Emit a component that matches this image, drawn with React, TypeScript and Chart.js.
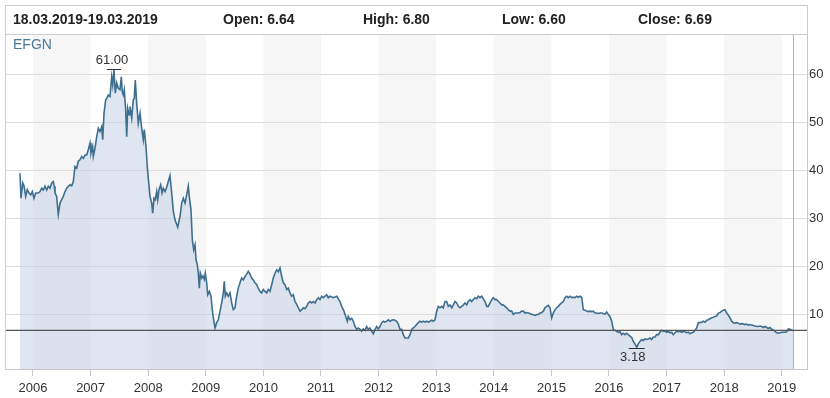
import React, { useEffect, useRef } from 'react';
import { Chart, registerables } from 'chart.js';

Chart.register(...registerables);

const FONT = '"Liberation Sans", Arial, Helvetica, sans-serif';

const seriesName = 'EFGN';
const periodLabel = '18.03.2019-19.03.2019';
const quoteLabels = ['Open:', 'High:', 'Low:', 'Close:'];
const quoteValues = [6.64, 6.8, 6.6, 6.69];

const xTickYears = [2006, 2007, 2008, 2009, 2010, 2011, 2012, 2013, 2014, 2015, 2016, 2017, 2018, 2019];
const yTickValues = [10, 20, 30, 40, 50, 60];

const dates = [
  2005.774, 2005.792, 2005.821, 2005.844, 2005.873, 2005.901, 2005.931, 2005.96, 2005.988, 2006.017,
  2006.047, 2006.092, 2006.122, 2006.151, 2006.179, 2006.208, 2006.238, 2006.266, 2006.295, 2006.325,
  2006.352, 2006.37, 2006.382, 2006.411, 2006.439, 2006.469, 2006.498, 2006.526, 2006.556, 2006.585,
  2006.613, 2006.642, 2006.672, 2006.7, 2006.729, 2006.759, 2006.786, 2006.816, 2006.845, 2006.873,
  2006.903, 2006.932, 2006.96, 2006.99, 2007.007, 2007.036, 2007.047, 2007.076, 2007.106, 2007.134,
  2007.163, 2007.193, 2007.21, 2007.233, 2007.262, 2007.28, 2007.307, 2007.337, 2007.366, 2007.384,
  2007.406, 2007.429, 2007.453, 2007.481, 2007.51, 2007.533, 2007.55, 2007.568, 2007.585, 2007.609,
  2007.627, 2007.644, 2007.667, 2007.684, 2007.714, 2007.741, 2007.759, 2007.776, 2007.8, 2007.828,
  2007.858, 2007.887, 2007.915, 2007.932, 2007.962, 2007.984, 2008.009, 2008.031, 2008.061, 2008.078,
  2008.101, 2008.123, 2008.148, 2008.165, 2008.188, 2008.217, 2008.24, 2008.262, 2008.292, 2008.321,
  2008.349, 2008.378, 2008.408, 2008.436, 2008.465, 2008.512, 2008.552, 2008.582, 2008.609, 2008.639,
  2008.668, 2008.696, 2008.713, 2008.743, 2008.766, 2008.79, 2008.813, 2008.83, 2008.852, 2008.87,
  2008.887, 2008.905, 2008.929, 2008.951, 2008.974, 2008.991, 2009.016, 2009.033, 2009.061, 2009.09,
  2009.113, 2009.137, 2009.16, 2009.189, 2009.217, 2009.247, 2009.276, 2009.304, 2009.321, 2009.339,
  2009.363, 2009.391, 2009.42, 2009.45, 2009.477, 2009.507, 2009.536, 2009.564, 2009.594, 2009.623,
  2009.651, 2009.681, 2009.71, 2009.738, 2009.767, 2009.797, 2009.825, 2009.854, 2009.884, 2009.911,
  2009.941, 2009.97, 2009.998, 2010.028, 2010.057, 2010.085, 2010.115, 2010.144, 2010.172, 2010.201,
  2010.231, 2010.259, 2010.288, 2010.318, 2010.345, 2010.375, 2010.405, 2010.432, 2010.462, 2010.491,
  2010.519, 2010.549, 2010.578, 2010.606, 2010.635, 2010.665, 2010.693, 2010.722, 2010.752, 2010.78,
  2010.809, 2010.839, 2010.866, 2010.896, 2010.925, 2010.953, 2010.983, 2011.012, 2011.04, 2011.069,
  2011.099, 2011.127, 2011.156, 2011.214, 2011.273, 2011.33, 2011.359, 2011.399, 2011.429, 2011.457,
  2011.474, 2011.503, 2011.533, 2011.561, 2011.59, 2011.62, 2011.648, 2011.677, 2011.707, 2011.734,
  2011.764, 2011.793, 2011.821, 2011.851, 2011.88, 2011.908, 2011.938, 2011.967, 2011.995, 2012.024,
  2012.054, 2012.082, 2012.111, 2012.141, 2012.168, 2012.198, 2012.227, 2012.255, 2012.285, 2012.314,
  2012.342, 2012.372, 2012.401, 2012.429, 2012.458, 2012.488, 2012.516, 2012.545, 2012.575, 2012.603,
  2012.632, 2012.661, 2012.689, 2012.719, 2012.748, 2012.776, 2012.806, 2012.835, 2012.863, 2012.892,
  2012.922, 2012.95, 2012.979, 2013.009, 2013.036, 2013.066, 2013.095, 2013.123, 2013.153, 2013.182,
  2013.21, 2013.24, 2013.269, 2013.297, 2013.326, 2013.356, 2013.384, 2013.413, 2013.443, 2013.471,
  2013.5, 2013.53, 2013.557, 2013.587, 2013.616, 2013.644, 2013.674, 2013.703, 2013.731, 2013.76,
  2013.79, 2013.818, 2013.847, 2013.877, 2013.905, 2013.934, 2013.964, 2013.991, 2014.021, 2014.05,
  2014.078, 2014.108, 2014.137, 2014.165, 2014.194, 2014.224, 2014.252, 2014.281, 2014.311, 2014.339,
  2014.368, 2014.398, 2014.425, 2014.455, 2014.484, 2014.512, 2014.542, 2014.571, 2014.599, 2014.628,
  2014.658, 2014.686, 2014.715, 2014.745, 2014.773, 2014.802, 2014.832, 2014.86, 2014.889, 2014.918,
  2014.946, 2014.976, 2015.005, 2015.033, 2015.063, 2015.092, 2015.12, 2015.149, 2015.179, 2015.207,
  2015.236, 2015.266, 2015.293, 2015.323, 2015.352, 2015.38, 2015.41, 2015.439, 2015.467, 2015.497,
  2015.526, 2015.554, 2015.583, 2015.613, 2015.641, 2015.67, 2015.7, 2015.727, 2015.757, 2015.786,
  2015.814, 2015.844, 2015.873, 2015.901, 2015.931, 2015.96, 2015.988, 2016.017, 2016.047, 2016.075,
  2016.104, 2016.134, 2016.161, 2016.191, 2016.22, 2016.248, 2016.278, 2016.307, 2016.335, 2016.365,
  2016.394, 2016.422, 2016.451, 2016.481, 2016.509, 2016.538, 2016.568, 2016.596, 2016.625, 2016.655,
  2016.682, 2016.712, 2016.741, 2016.769, 2016.799, 2016.828, 2016.856, 2016.885, 2016.915, 2016.943,
  2016.972, 2017.002, 2017.03, 2017.059, 2017.089, 2017.116, 2017.146, 2017.175, 2017.203, 2017.233,
  2017.262, 2017.29, 2017.319, 2017.349, 2017.377, 2017.406, 2017.436, 2017.464, 2017.493, 2017.523,
  2017.55, 2017.58, 2017.609, 2017.637, 2017.667, 2017.696, 2017.724, 2017.753, 2017.783, 2017.811,
  2017.84, 2017.87, 2017.898, 2017.927, 2017.957, 2017.984, 2018.014, 2018.043, 2018.071, 2018.101,
  2018.13, 2018.158, 2018.188, 2018.217, 2018.245, 2018.274, 2018.304, 2018.332, 2018.361, 2018.391,
  2018.418, 2018.448, 2018.477, 2018.505, 2018.535, 2018.564, 2018.592, 2018.622, 2018.651, 2018.679,
  2018.708, 2018.738, 2018.766, 2018.795, 2018.825, 2018.853, 2018.882, 2018.912, 2018.939, 2018.969,
  2018.998, 2019.026, 2019.056, 2019.085, 2019.113, 2019.142, 2019.194,
];

const prices = [
  39.4, 34.2, 37.4, 36.8, 34.6, 36.0, 35.3, 34.9, 35.6, 34.2,
  35.3, 35.3, 35.6, 36.3, 35.9, 36.7, 35.9, 36.7, 36.3, 37.4,
  37.7, 36.7, 35.3, 34.6, 30.8, 33.2, 33.9, 34.6, 35.6, 36.3,
  36.7, 37.0, 36.8, 37.7, 40.8, 40.5, 41.9, 42.2, 42.9, 42.5,
  43.2, 43.2, 44.3, 45.7, 43.6, 45.0, 42.9, 44.6, 47.0, 48.8,
  48.1, 49.1, 46.4, 51.9, 54.7, 55.0, 55.7, 55.4, 59.5, 57.8,
  61.0, 56.1, 58.2, 57.1, 56.8, 59.5, 56.4, 55.7, 56.8, 52.6,
  47.0, 52.9, 51.6, 53.3, 50.9, 54.7, 55.0, 58.8, 54.0, 49.8,
  51.9, 48.8, 46.4, 48.5, 45.0, 40.8, 37.4, 34.6, 33.2, 31.1,
  34.2, 33.9, 35.6, 33.9, 36.0, 37.0, 35.3, 36.3, 35.6, 36.5,
  37.7, 38.9, 35.3, 31.5, 29.7, 28.2, 30.4, 33.2, 34.2, 33.2,
  34.9, 36.7, 34.6, 31.8, 25.6, 23.5, 24.5, 21.4, 20.4, 18.6,
  15.5, 18.6, 17.6, 18.0, 17.3, 18.6, 16.6, 14.1, 14.8, 13.8,
  11.0, 8.9, 7.2, 8.3, 8.9, 10.7, 12.4, 14.5, 16.9, 13.8,
  14.5, 13.8, 14.5, 12.4, 11.0, 11.4, 13.8, 15.5, 16.6, 17.6,
  17.2, 17.9, 18.4, 19.0, 18.4, 17.6, 17.2, 16.6, 16.2, 15.5,
  14.8, 14.5, 15.2, 14.8, 14.5, 15.2, 14.8, 16.2, 17.6, 18.6,
  19.3, 18.9, 19.7, 17.9, 16.6, 16.2, 15.2, 15.5, 14.5, 13.8,
  14.1, 12.7, 12.1, 11.4, 10.7, 11.0, 11.4, 11.2, 11.7, 12.4,
  12.7, 12.4, 12.7, 12.4, 13.1, 13.5, 13.1, 13.8, 13.5, 13.8,
  14.1, 13.5, 13.8, 13.5, 13.8, 12.7, 11.7, 10.7, 9.6, 8.6,
  9.6, 8.9, 9.2, 8.6, 7.5, 6.9, 7.2, 6.9, 6.5, 7.0,
  6.7, 7.5, 6.9, 7.2, 6.5, 6.0, 6.9, 7.5, 7.0, 7.5,
  8.3, 8.6, 8.4, 8.6, 8.9, 8.6, 8.8, 8.9, 8.8, 8.6,
  8.0, 6.9, 6.9, 5.8, 5.1, 5.1, 5.1, 5.8, 6.9, 7.2,
  7.5, 7.9, 8.3, 8.6, 8.4, 8.6, 8.4, 8.6, 8.4, 8.6,
  8.8, 8.6, 8.9, 10.7, 11.7, 11.4, 11.7, 11.4, 12.7, 12.7,
  11.7, 12.0, 11.4, 12.0, 12.7, 12.4, 11.7, 11.4, 11.7, 12.0,
  12.4, 12.0, 12.7, 13.1, 12.7, 13.1, 13.5, 13.3, 13.8, 13.5,
  13.8, 13.3, 12.7, 11.7, 11.7, 12.4, 13.1, 13.5, 13.1, 13.1,
  12.7, 12.4, 12.0, 12.0, 11.7, 11.4, 11.0, 10.7, 10.7, 10.0,
  10.3, 10.3, 10.3, 10.4, 10.7, 10.7, 10.3, 10.4, 10.3, 10.2,
  10.0, 10.0, 9.8, 10.0, 10.0, 10.3, 10.4, 10.7, 11.4, 11.7,
  11.9, 11.4, 9.3, 10.3, 11.0, 11.4, 11.7, 12.1, 12.4, 12.7,
  13.5, 13.8, 13.5, 13.8, 13.5, 13.6, 13.5, 13.8, 13.6, 13.8,
  13.6, 11.0, 10.9, 10.7, 10.6, 10.7, 10.6, 10.7, 10.3, 10.3,
  10.2, 10.3, 10.3, 10.2, 10.1, 10.5, 10.0, 9.6, 8.6, 6.9,
  6.7, 6.5, 6.3, 6.4, 5.8, 6.1, 5.8, 6.1, 5.8, 5.5,
  5.2, 4.4, 3.9, 3.18, 3.9, 4.4, 4.8, 4.6, 4.9, 4.8,
  4.9, 5.1, 4.8, 5.3, 5.3, 5.8, 5.8, 6.3, 6.7, 6.5,
  6.5, 6.3, 6.5, 6.2, 6.3, 5.8, 6.2, 6.5, 6.4, 6.5,
  6.3, 6.5, 6.4, 6.2, 6.3, 6.0, 6.2, 6.3, 6.7, 7.2,
  8.3, 8.3, 8.4, 8.6, 8.4, 8.8, 8.9, 9.1, 9.3, 9.4,
  9.6, 9.7, 10.3, 10.4, 10.7, 10.9, 11.0, 10.3, 9.9, 9.3,
  8.6, 8.3, 8.2, 8.3, 8.2, 8.0, 8.1, 8.0, 7.9, 8.0,
  7.8, 7.9, 7.8, 7.7, 7.6, 7.5, 7.5, 7.6, 7.5, 7.3,
  7.5, 7.3, 7.1, 7.3, 6.9, 6.8, 6.5, 6.2, 6.1, 6.2,
  6.3, 6.3, 6.3, 6.4, 7.0, 6.9, 6.69,
];

const decorPlugin = {
  id: 'decor',
  beforeDraw(chart: any) {
    const { ctx, chartArea: a, scales } = chart;
    const x = scales.x;
    ctx.save();
    ctx.fillStyle = '#ffffff';
    ctx.fillRect(0, 0, chart.width, chart.height);
    // alternating year stripes
    ctx.fillStyle = '#f6f6f6';
    xTickYears.forEach((yr) => {
      if (yr % 2 !== 0) return;
      const x0 = Math.max(x.getPixelForValue(yr), a.left);
      const x1 = Math.min(x.getPixelForValue(yr + 1), a.right);
      if (x1 > x0) ctx.fillRect(x0, a.top, x1 - x0, a.bottom - a.top);
    });
    ctx.restore();
  },
  afterDatasetsDraw(chart: any) {
    const { ctx, chartArea: a, scales } = chart;
    const x = scales.x;
    const y = scales.y;
    ctx.save();
    // last-date vertical line
    const lx = Math.round(x.getPixelForValue(dates[dates.length - 1])) + 0.5;
    ctx.strokeStyle = '#b4b4b4';
    ctx.lineWidth = 1;
    ctx.beginPath();
    ctx.moveTo(lx, a.top);
    ctx.lineTo(lx, a.bottom);
    ctx.stroke();
    // close price line
    const cy = y.getPixelForValue(quoteValues[3]);
    ctx.strokeStyle = '#555555';
    ctx.lineWidth = 1.3;
    ctx.beginPath();
    ctx.moveTo(a.left, cy);
    ctx.lineTo(a.right, cy);
    ctx.stroke();
    // max / min annotations
    let iMax = 0;
    let iMin = 0;
    prices.forEach((p, i) => {
      if (p > prices[iMax]) iMax = i;
      if (p < prices[iMin]) iMin = i;
    });
    ctx.fillStyle = '#333333';
    ctx.strokeStyle = '#333333';
    ctx.lineWidth = 1;
    ctx.font = `13px ${FONT}`;
    ctx.textAlign = 'center';
    ctx.textBaseline = 'middle';
    const mx = x.getPixelForValue(dates[iMax]);
    const my = Math.round(y.getPixelForValue(prices[iMax])) - 0.5;
    ctx.beginPath();
    ctx.moveTo(mx - 7, my);
    ctx.lineTo(mx + 7, my);
    ctx.stroke();
    ctx.fillText(prices[iMax].toFixed(2), mx - 2, my - 9);
    const nx = x.getPixelForValue(dates[iMin]);
    const ny = Math.round(y.getPixelForValue(prices[iMin])) + 1.5;
    ctx.beginPath();
    ctx.moveTo(nx - 8, ny);
    ctx.lineTo(nx + 8, ny);
    ctx.stroke();
    ctx.fillText(prices[iMin].toFixed(2), nx - 4, ny + 9);
    ctx.restore();
  },
  afterDraw(chart: any) {
    const { ctx, chartArea: a } = chart;
    ctx.save();
    // header box
    ctx.strokeStyle = '#cccccc';
    ctx.lineWidth = 1;
    ctx.strokeRect(5.5, 5.5, a.right - 5, a.top - 6);
    // left frame line
    ctx.beginPath();
    ctx.moveTo(a.left + 0.5, a.top);
    ctx.lineTo(a.left + 0.5, a.bottom);
    ctx.stroke();
    // header texts
    ctx.fillStyle = '#222222';
    ctx.font = `bold 14px ${FONT}`;
    ctx.textAlign = 'left';
    ctx.textBaseline = 'middle';
    ctx.fillText(periodLabel, 13, 20.5);
    const starts = [223, 363, 502, 638];
    quoteLabels.forEach((lab, i) => {
      ctx.fillText(`${lab} ${quoteValues[i].toFixed(2)}`, starts[i], 20.5);
    });
    // series name
    ctx.fillStyle = '#4a7a98';
    ctx.font = `14px ${FONT}`;
    ctx.fillText(seriesName, 13, 45);
    ctx.restore();
  },
};

export default function App() {
  const canvasRef = useRef<HTMLCanvasElement | null>(null);

  useEffect(() => {
    document.body.style.margin = '0';
    const canvas = canvasRef.current;
    if (!canvas) return;
    const chart = new Chart(canvas, {
      type: 'line',
      data: {
        datasets: [
          {
            label: seriesName,
            data: dates.map((d, i) => ({ x: d, y: prices[i] })),
            borderColor: '#3f6f8e',
            borderWidth: 1.6,
            backgroundColor: 'rgba(192, 204, 228, 0.5)',
            fill: 'start',
            pointRadius: 0,
            tension: 0,
          },
        ],
      },
      options: {
        animation: false,
        responsive: false,
        devicePixelRatio: 1,
        layout: { padding: { left: 5, top: 35, right: 0, bottom: 0 } },
        plugins: { legend: { display: false }, tooltip: { enabled: false } },
        scales: {
          x: {
            type: 'linear',
            min: 2005.514,
            max: 2019.4375,
            afterBuildTicks: (s: any) => {
              s.ticks = xTickYears.map((v) => ({ value: v }));
            },
            afterFit: (s: any) => {
              s.height = 29;
            },
            grid: { drawOnChartArea: false, drawTicks: true, tickLength: 7, tickColor: '#c8c8c8' },
            border: { display: true, color: '#c8c8c8' },
            ticks: {
              padding: 5,
              color: '#333333',
              font: { family: FONT, size: 13 },
              maxRotation: 0,
              autoSkip: false,
              callback: (v: any) => String(v),
            },
          },
          y: {
            type: 'linear',
            position: 'right',
            min: -1.35,
            max: 68.2,
            afterBuildTicks: (s: any) => {
              s.ticks = yTickValues.map((v) => ({ value: v }));
            },
            afterFit: (s: any) => {
              s.width = 23;
            },
            grid: { color: '#dddddd', lineWidth: 1, drawTicks: true, tickLength: 2, tickColor: '#dddddd' },
            border: { display: true, color: '#c8c8c8' },
            ticks: {
              padding: 0,
              color: '#333333',
              font: { family: FONT, size: 13 },
              callback: (v: any) => String(v),
            },
          },
        },
      },
      plugins: [decorPlugin],
    });
    return () => chart.destroy();
  }, []);

  return (
    <div style={{ width: 830, height: 398 }}>
      <canvas ref={canvasRef} width={830} height={398} style={{ display: 'block' }} />
    </div>
  );
}
